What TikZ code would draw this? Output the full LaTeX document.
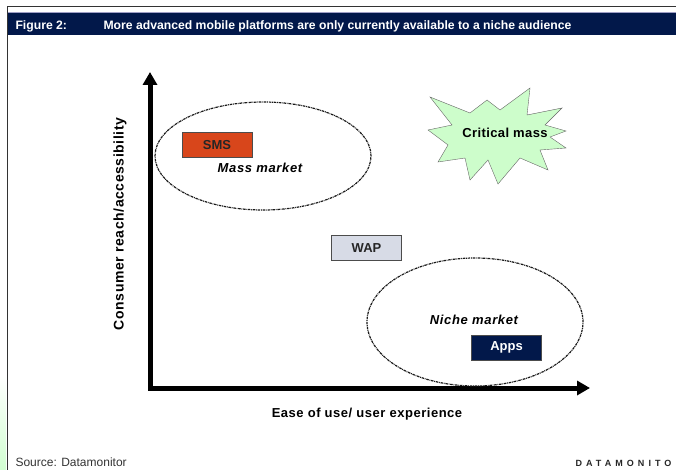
\documentclass[tikz,border=0pt]{standalone}
\usepackage{fontspec}
\setmainfont{Liberation Sans}
\usetikzlibrary{shapes.geometric,arrows.meta}
\definecolor{navy}{HTML}{02184A}
\definecolor{smsred}{HTML}{D8461B}
\definecolor{wapgray}{HTML}{D7DBE6}
\definecolor{burstgreen}{HTML}{CDFDCB}

\begin{document}
\begin{tikzpicture}[x=1pt,y=-1pt,
  box/.style={draw=black!70, minimum width=70pt, minimum height=25pt, inner sep=0pt, font=\bfseries\fontsize{13}{15}\selectfont},
  market/.style={ellipse, draw=black!90, line width=1.2pt, dash pattern=on 2.5pt off 0.8pt on 0.8pt off 0.8pt},
  axis/.style={line width=5pt, line join=miter, {Triangle[length=13pt,width=14pt]}-{Triangle[length=13pt,width=14pt]}},
  marketlabel/.style={font=\bfseries\itshape\fontsize{13}{15}\selectfont\addfontfeature{LetterSpace=5}},
  axislabel/.style={font=\bfseries\fontsize{13}{15}\selectfont\addfontfeature{LetterSpace=4}}]
\useasboundingbox (0,0) rectangle (676,470);

% frame and title bar
\shade[top color=white, bottom color=green!18] (0,375) rectangle (6,470);
\draw[black!80, line width=1pt] (7,470) -- (7,7) -- (676,7);
\fill[navy] (8,12) rectangle (676,35);
\draw[blue!25!gray!60, line width=0.8pt] (8,12.5) -- (676,12.5);
\node[white, anchor=base west, font=\bfseries\fontsize{12.2}{14}\selectfont] (fig) at (12,30) {Figure 2:};
\node[white, anchor=base west, font=\bfseries\fontsize{12.2}{14}\selectfont] (title) at (100,30) {More advanced mobile platforms are only currently available to a niche audience};

% axes
\coordinate (ytop) at (150,72);
\coordinate (origin) at (150,388);
\coordinate (xend) at (590,388);
\draw[axis] (ytop) -- (origin) -- (xend);
\node[axislabel, rotate=90, font=\bfseries\fontsize{14}{16}\selectfont\addfontfeature{LetterSpace=4}] (ylabel) at (120,224) {Consumer reach/accessibility};
\node[axislabel] (xlabel) at (367,414) {Ease of use/ user experience};

% markets
\node[market, minimum width=216pt, minimum height=108pt] (mass) at (263,156) {};
\node[market, minimum width=216pt, minimum height=128pt] (niche) at (475,322) {};
\node[marketlabel] (masslabel) at (260,168) {Mass market};
\node[marketlabel] (nichelabel) at (474,320) {Niche market};

% platforms
\node[box, fill=smsred, text=black!85] (sms) at (217,145) {SMS};
\node[box, fill=wapgray, text=black!85] (wap) at (366.5,248) {WAP};
\node[box, fill=navy, text=white] (apps) at (506.5,347.5) {Apps};

% critical mass burst
\filldraw[draw=black!60, fill=burstgreen, line join=miter]
  (430,97) -- (470,113) -- (487,100) -- (500,110) -- (530,88) -- (527,115)
  -- (562,108) -- (545,125) -- (566,131) -- (550,137) -- (566,148) -- (540,150)
  -- (548,170) -- (520,158) -- (498,184) -- (488,160) -- (470,180) -- (465,158)
  -- (438,162) -- (448,145) -- (428,130) -- (452,125) -- cycle;
\node[font=\bfseries\fontsize{13}{15}\selectfont\addfontfeature{LetterSpace=3}] (crit) at (505,133) {Critical mass};

% footer
\node[anchor=base west, black!80, font=\fontsize{12}{14}\selectfont] (src) at (12,466) {Source: Datamonitor};
\node[anchor=base west, black!85, font=\bfseries\fontsize{9}{11}\selectfont\addfontfeature{LetterSpace=45}] (brand) at (572,466) {DATAMONITO};
\end{tikzpicture}
\end{document}
